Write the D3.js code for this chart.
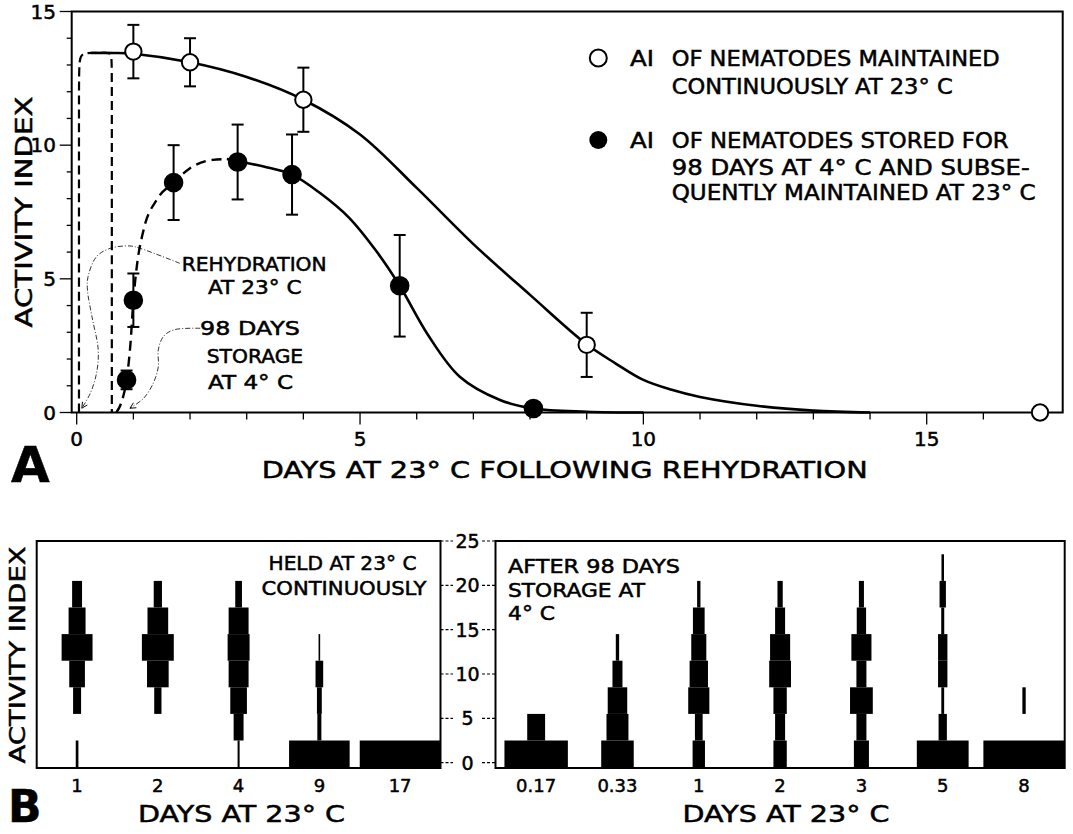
<!DOCTYPE html>
<html>
<head>
<meta charset="utf-8">
<script src="https://cdn.jsdelivr.net/npm/d3@7"></script>
<style>
  body { margin: 0; background: #fff; }
  text { font-family: "DejaVu Sans", sans-serif; fill: #000; stroke: #000; stroke-width: 0.5px; }
</style>
</head>
<body>
<script>
// ---- panel A: activity index against days ----
const contDays = [1, 2, 4, 9, 17];
const contAI = [13.5, 13.1, 11.7, 2.53, 0];
const contErr = [1.0, 0.9, 1.2, 1.2, 0];

const storedDays = [0.88, 1.0, 1.71, 2.84, 3.8, 5.7, 8.06];
const storedAI = [1.22, 4.2, 8.6, 9.37, 8.9, 4.74, 0.15];
const storedErr = [0.35, 1.0, 1.4, 1.4, 1.5, 1.9, 0];

// hand-drawn fitted curves
const contFitDays = [0.25, 0.65, 1, 2, 3, 4, 5, 6, 7, 8, 9, 9.5, 10, 10.5, 11, 12, 13, 14];
const contFitAI = [13.45, 13.45, 13.42, 13.1, 12.55, 11.7, 10.4, 8.4, 6.3, 4.4, 2.55, 1.85, 1.22, 0.85, 0.58, 0.25, 0.07, 0];

const rehydDays = [0.04, 0.04, 0.04, 0.25, 0.55, 0.62, 0.62, 0.62];
const rehydAI = [0, 12.6, 13.45, 13.45, 13.45, 13.45, 12.6, 0];

const storedDashDays = [0.7, 0.8, 0.88, 0.95, 1.0, 1.06, 1.18, 1.41, 1.71, 2.0, 2.4, 2.65];
const storedDashAI = [0, 0.45, 1.22, 2.6, 4.2, 5.45, 6.83, 7.95, 8.6, 9.14, 9.45, 9.48];

const storedFitDays = [2.65, 2.84, 3.3, 3.8, 4.3, 4.8, 5.3, 5.7, 6.2, 6.76, 7.47, 8.06, 9, 10];
const storedFitAI = [9.48, 9.4, 9.2, 8.9, 8.2, 7.3, 6.0, 4.74, 2.9, 1.34, 0.47, 0.15, 0.03, 0];

// leader lines of the two notes (days, AI)
const rehydNoteDays = [1.82, 1.12, 0.94, 0.59, 0.35, 0.2, 0.19, 0.27, 0.38, 0.35, 0.24, 0.09];
const rehydNoteAI = [5.58, 6.14, 6.23, 6.14, 5.83, 5.08, 4.58, 3.58, 2.34, 1.47, 0.72, 0.16];
const storeNoteDays = [2.18, 1.71, 1.53, 1.44, 1.44, 1.35, 1.18, 0.94];
const storeNoteAI = [3.15, 3.09, 2.84, 2.34, 1.71, 1.09, 0.53, 0.16];

const xTicksA = [0, 5, 10, 15];
const yTicksA = [0, 5, 10, 15];

// ---- panel B: frequency (% of band) in activity index classes ----
const binCenters = [1, 4, 7, 10, 13, 16, 19, 22];
const heldDays = ["1", "2", "4", "9", "17"];
const heldFreq = [
  [3.3, 0, 9.9, 19.4, 38.3, 21, 12.3, 0],
  [0, 0, 9, 26.8, 39.5, 25.6, 10.2, 0],
  [2.5, 12.3, 20.6, 24.7, 27.2, 24.7, 8.3, 0],
  [75, 5, 6, 9.5, 2, 0, 0, 0],
  [100, 0, 0, 0, 0, 0, 0, 0]
];
const storedDaysB = ["0.17", "0.33", "1", "2", "3", "5", "8"];
const storedFreq = [
  [78, 22, 0, 0, 0, 0, 0, 0],
  [40, 27, 24, 12.3, 4.1, 0, 0, 0],
  [15.2, 9.5, 26, 22.6, 18.5, 14.4, 4.1, 0],
  [16.4, 12.3, 16.4, 26.8, 24.7, 12.3, 6.5, 0],
  [18.5, 12.3, 28, 12.3, 24.7, 11.5, 6.2, 0],
  [63.7, 10.2, 3.5, 11.5, 11.5, 3.7, 7.8, 3.1],
  [100, 0, 4.1, 0, 0, 0, 0, 0]
];
const yTicksB = [0, 5, 10, 15, 20, 25];

const w = 1073, h = 834;
const svg = d3.select("body").append("svg")
  .attr("width", w).attr("height", h);

const defs = svg.append("defs");
defs.append("marker")
  .attr("id", "arrow")
  .attr("viewBox", "0 0 10 10")
  .attr("refX", 9).attr("refY", 5)
  .attr("markerWidth", 9).attr("markerHeight", 9)
  .attr("orient", "auto")
  .append("path")
  .attr("d", "M1,1 L9,5 L1,9")
  .attr("fill", "none").attr("stroke", "#000").attr("stroke-width", 1.2);

function label(g, str, x, y, size, len, anchor) {
  const t = g.append("text")
    .attr("x", x).attr("y", y)
    .attr("font-size", size)
    .attr("text-anchor", anchor || "start")
    .text(str);
  if (len) t.attr("textLength", len).attr("lengthAdjust", "spacingAndGlyphs");
  return t;
}

// ================= PANEL A =================
const A = { left: 71.7, right: 1062.7, top: 11.5, bottom: 412.5 };
const xA = d3.scaleLinear().domain([0, 15]).range([76.7, 926.7]);
const yA = d3.scaleLinear().domain([0, 15]).range([A.bottom, A.top]);
const gA = svg.append("g");

gA.append("rect")
  .attr("x", A.left).attr("y", A.top)
  .attr("width", A.right - A.left).attr("height", A.bottom - A.top)
  .attr("fill", "none").attr("stroke", "#000").attr("stroke-width", 2);

// y ticks (minor every unit, major every 5)
gA.selectAll(".ytm").data(d3.range(0, 16)).enter().append("line")
  .attr("x1", (d) => d % 5 === 0 ? A.left - 12 : A.left - 5)
  .attr("x2", A.left)
  .attr("y1", (d) => yA(d)).attr("y2", (d) => yA(d))
  .attr("stroke", "#000").attr("stroke-width", 1.3);
gA.selectAll(".ytl").data(yTicksA).enter().append("text")
  .attr("x", 56).attr("y", (d) => yA(d)).attr("dy", "0.36em")
  .attr("text-anchor", "end").attr("font-size", 20)
  .text((d) => d);

// x ticks
gA.selectAll(".xtm").data(d3.range(0, 18)).enter().append("line")
  .attr("x1", (d) => xA(d)).attr("x2", (d) => xA(d))
  .attr("y1", A.bottom).attr("y2", (d) => d % 5 === 0 ? A.bottom + 12 : A.bottom + 7)
  .attr("stroke", "#000").attr("stroke-width", 1.3);
gA.selectAll(".xtl").data(xTicksA).enter().append("text")
  .attr("x", (d) => xA(d)).attr("y", 446)
  .attr("text-anchor", "middle").attr("font-size", 20)
  .text((d) => d);

// curves
const lineA = d3.line().x((d) => xA(d[0])).y((d) => yA(d[1]));
const zip = (a, b) => a.map((v, i) => [v, b[i]]);

gA.append("path")
  .attr("d", lineA.curve(d3.curveBasis)(zip(rehydDays, rehydAI)))
  .attr("fill", "none").attr("stroke", "#000").attr("stroke-width", 2.2)
  .attr("stroke-dasharray", "9,5");
gA.append("path")
  .attr("d", lineA.curve(d3.curveCatmullRom)(zip(contFitDays, contFitAI)))
  .attr("fill", "none").attr("stroke", "#000").attr("stroke-width", 2.6);
gA.append("path")
  .attr("d", lineA.curve(d3.curveMonotoneX)(zip(storedDashDays, storedDashAI)))
  .attr("fill", "none").attr("stroke", "#000").attr("stroke-width", 2.4)
  .attr("stroke-dasharray", "10,6");
gA.append("path")
  .attr("d", lineA.curve(d3.curveCatmullRom)(zip(storedFitDays, storedFitAI)))
  .attr("fill", "none").attr("stroke", "#000").attr("stroke-width", 2.6);

// note leaders
gA.append("path")
  .attr("d", lineA.curve(d3.curveCatmullRom)(zip(rehydNoteDays, rehydNoteAI)))
  .attr("fill", "none").attr("stroke", "#000").attr("stroke-width", 0.8)
  .attr("stroke-dasharray", "5,2,1,2").attr("marker-end", "url(#arrow)");
gA.append("path")
  .attr("d", lineA.curve(d3.curveCatmullRom)(zip(storeNoteDays, storeNoteAI)))
  .attr("fill", "none").attr("stroke", "#000").attr("stroke-width", 0.8)
  .attr("stroke-dasharray", "5,2,1,2").attr("marker-end", "url(#arrow)");

// error bars and points
function drawPoints(days, ai, err, filled) {
  const pts = zip(days, ai).map((d, i) => ({ x: d[0], y: d[1], e: err[i] }));
  const eb = gA.append("g").selectAll("g").data(pts.filter((d) => d.e > 0)).enter().append("g");
  eb.append("line")
    .attr("x1", (d) => xA(d.x)).attr("x2", (d) => xA(d.x))
    .attr("y1", (d) => yA(d.y - d.e)).attr("y2", (d) => yA(d.y + d.e));
  eb.append("line")
    .attr("x1", (d) => xA(d.x) - 6).attr("x2", (d) => xA(d.x) + 6)
    .attr("y1", (d) => yA(d.y + d.e)).attr("y2", (d) => yA(d.y + d.e));
  eb.append("line")
    .attr("x1", (d) => xA(d.x) - 6).attr("x2", (d) => xA(d.x) + 6)
    .attr("y1", (d) => yA(d.y - d.e)).attr("y2", (d) => yA(d.y - d.e));
  eb.selectAll("line").attr("stroke", "#000").attr("stroke-width", 2);
  gA.append("g").selectAll("circle").data(pts).enter().append("circle")
    .attr("cx", (d) => xA(d.x)).attr("cy", (d) => yA(d.y))
    .attr("r", filled ? 8.8 : 8.2)
    .attr("fill", filled ? "#000" : "#fff")
    .attr("stroke", "#000").attr("stroke-width", 2);
}
drawPoints(contDays, contAI, contErr, false);
drawPoints(storedDays, storedAI, storedErr, true);

// notes
label(gA, "REHYDRATION", 181.7, 270.5, 19, 145);
label(gA, "AT 23\u00b0 C", 208, 293.5, 19, 93.5);
label(gA, "98 DAYS", 200, 335, 19, 100);
label(gA, "STORAGE", 206.7, 362.5, 19, 96.5);
label(gA, "AT 4\u00b0 C", 208, 388.5, 19, 85);

// legend
gA.append("circle").attr("cx", 598.3).attr("cy", 58)
  .attr("r", 8.5).attr("fill", "#fff").attr("stroke", "#000").attr("stroke-width", 2);
gA.append("circle").attr("cx", 598.3).attr("cy", 140)
  .attr("r", 9).attr("fill", "#000");
label(gA, "AI", 630, 65.5, 21, 24);
label(gA, "OF NEMATODES MAINTAINED", 671.7, 65.5, 21, 328);
label(gA, "CONTINUOUSLY AT 23\u00b0 C", 671.7, 93.5, 21, 281);
label(gA, "AI", 630, 148, 21, 24);
label(gA, "OF NEMATODES STORED FOR", 671.7, 148, 21, 337);
label(gA, "98 DAYS AT 4\u00b0 C AND SUBSE-", 671.7, 174.5, 21, 358);
label(gA, "QUENTLY MAINTAINED AT 23\u00b0 C", 671.7, 200, 21, 364);

// axis titles
label(gA, "DAYS AT 23\u00b0 C FOLLOWING REHYDRATION", 261.7, 478, 23, 606);
gA.append("text")
  .attr("transform", "translate(31.7,212) rotate(-90)")
  .attr("text-anchor", "middle").attr("font-size", 23)
  .attr("textLength", 231).attr("lengthAdjust", "spacingAndGlyphs")
  .text("ACTIVITY INDEX");
label(gA, "A", 11, 482, 50, null).attr("font-weight", "bold");

// ================= PANEL B =================
const B = { top: 541, bottom: 768 };
const yB = d3.scaleLinear().domain([-0.6, 25]).range([B.bottom, B.top]);
const binLo = (c) => Math.max(c - 1.5, -0.6);
const binHi = (c) => c + 1.5;

function kitePanel(id, cats, freq, left, right) {
  const g = svg.append("g");
  const x = d3.scaleBand().domain(cats).range([left, right]);
  const wScale = d3.scaleLinear().domain([0, 100]).range([0, x.bandwidth()]);
  defs.append("clipPath").attr("id", id)
    .append("rect").attr("x", left).attr("y", B.top)
    .attr("width", right - left).attr("height", B.bottom - B.top);
  const cells = [];
  cats.forEach((c, i) => binCenters.forEach((b, j) => {
    if (freq[i][j] > 0) cells.push({ cat: c, bin: b, f: freq[i][j] });
  }));
  g.append("g").attr("clip-path", "url(#" + id + ")")
    .selectAll("rect").data(cells).enter().append("rect")
    .attr("x", (d) => x(d.cat) + x.bandwidth() / 2 - wScale(d.f) / 2)
    .attr("width", (d) => wScale(d.f))
    .attr("y", (d) => yB(binHi(d.bin)))
    .attr("height", (d) => yB(binLo(d.bin)) - yB(binHi(d.bin)))
    .attr("fill", "#000");
  g.append("rect")
    .attr("x", left).attr("y", B.top)
    .attr("width", right - left).attr("height", B.bottom - B.top)
    .attr("fill", "none").attr("stroke", "#000").attr("stroke-width", 2);
  g.selectAll(".xl").data(cats).enter().append("text")
    .attr("x", (d) => x(d) + x.bandwidth() / 2).attr("y", 791.5)
    .attr("text-anchor", "middle").attr("font-size", 18)
    .text((d) => d);
  return g;
}
const gBL = kitePanel("clipL", heldDays, heldFreq, 36.7, 440.5);
const gBR = kitePanel("clipR", storedDaysB, storedFreq, 495.5, 1064.7);

// shared y axis between the panels
const gAx = svg.append("g");
gAx.selectAll(".tl").data(yTicksB).enter().append("line")
  .attr("x1", 440.5).attr("x2", 453).attr("y1", (d) => yB(d)).attr("y2", (d) => yB(d))
  .attr("stroke", "#000").attr("stroke-width", 1.2).attr("stroke-dasharray", "3,2");
gAx.selectAll(".tr").data(yTicksB).enter().append("line")
  .attr("x1", 482).attr("x2", 495.5).attr("y1", (d) => yB(d)).attr("y2", (d) => yB(d))
  .attr("stroke", "#000").attr("stroke-width", 1.2).attr("stroke-dasharray", "3,2");
gAx.selectAll("text").data(yTicksB).enter().append("text")
  .attr("x", 467.5).attr("y", (d) => yB(d)).attr("dy", "0.36em")
  .attr("text-anchor", "middle").attr("font-size", 19)
  .text((d) => d);

// panel notes and titles
label(gBL, "HELD AT 23\u00b0 C", 342.5, 570, 19, 148, "middle");
label(gBL, "CONTINUOUSLY", 344, 595, 19, 165, "middle");
label(gBR, "AFTER 98 DAYS", 508, 573, 19, 172);
label(gBR, "STORAGE AT", 508, 596.5, 19, 137);
label(gBR, "4\u00b0 C", 508, 620, 19, 47);
label(gBL, "DAYS AT 23\u00b0 C", 241.5, 821.5, 23, 207, "middle");
label(gBR, "DAYS AT 23\u00b0 C", 786, 821.5, 23, 207, "middle");
svg.append("text")
  .attr("transform", "translate(25,655) rotate(-90)")
  .attr("text-anchor", "middle").attr("font-size", 22)
  .attr("textLength", 217).attr("lengthAdjust", "spacingAndGlyphs")
  .text("ACTIVITY INDEX");
label(svg, "B", 8, 822, 44, null).attr("font-weight", "bold");
</script>
</body>
</html>
